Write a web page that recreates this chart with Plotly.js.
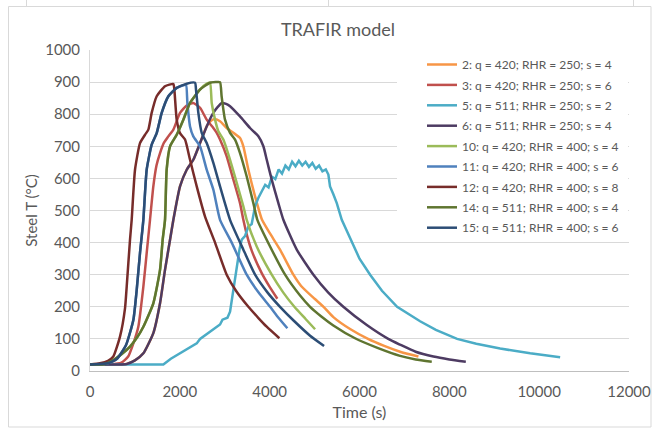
<!DOCTYPE html>
<html>
<head>
<meta charset="utf-8">
<script src="https://cdn.plot.ly/plotly-3.0.1.min.js"></script>
<style>html,body{margin:0;padding:0;background:#fff;}#chart{width:663px;height:432px;}</style>
</head>
<body>
<div id="chart"></div>
<script>
// ---- data (time in s, steel temperature in °C) ----
const names = ["2: q = 420; RHR = 250; s = 4","3: q = 420; RHR = 250; s = 6","5: q = 511; RHR = 250; s = 2","6: q = 511; RHR = 250; s = 4","10: q = 420; RHR = 400; s = 4","11: q = 420; RHR = 400; s = 6","12: q = 420; RHR = 400; s = 8","14: q = 511; RHR = 400; s = 4","15: q = 511; RHR = 400; s = 6"];
const colors = ["#F79646","#C0504D","#4BACC6","#4D3B62","#9BBB59","#4F81BD","#772C2A","#5F7530","#2C4D75"];

const t2 = [0,400,817,1000,1188,1410,1559,1670,1782,1856,2004,2153,2300,2450,2598,2700,2784,2895,3043,3192,3340,3414,3526,3675,3830,4000,4231,4528,4700,5000,5200,5418,5800,6190,6550,6904,7312];
const T2 = [20,20,22,33,55,118,211,315,409,471,575,627,658,710,762,780,785,778,757,742,726,700,627,544,471,430,378,300,265,225,200,168,130,100,78,60,45];

const t3 = [0,450,700,850,950,1076,1188,1262,1336,1410,1480,1559,1650,1744,1856,2004,2153,2300,2450,2598,2746,2821,2895,3043,3192,3340,3414,3500,3600,3823,4000,4171];
const T3 = [20,21,26,45,80,138,263,367,471,575,640,679,712,731,752,804,827,835,820,783,757,742,721,669,596,523,471,420,375,305,262,225];

const t5 = [0,1633,1800,2004,2200,2376,2450,2600,2746,2850,2895,2950,3006,3060,3118,3192,3267,3330,3378,3450,3526,3600,3675,3750,3825,3900,3975,4050,4125,4200,4275,4350,4425,4500,4575,4650,4725,4800,4875,4950,5025,5100,5175,5250,5307,5344,5420,5494,5605,5835,6000,6236,6500,6837,7349,7700,8173,8600,9131,9800,10467];
const T5 = [20,20,38,55,72,86,100,115,130,140,145,160,164,166,185,253,336,380,409,420,450,458,513,540,560,580,572,605,598,628,615,640,628,652,638,655,640,652,636,648,630,640,622,628,612,575,550,523,471,400,350,300,250,200,155,128,100,85,70,55,43];

const t6 = [0,817,1000,1188,1410,1559,1670,1782,1856,2004,2153,2300,2450,2598,2746,2840,2933,3030,3118,3340,3563,3749,3860,3935,4046,4194,4305,4603,4974,5300,5640,6162,6640,6904,7250,7646,8000,8367];
const T6 = [20,22,33,55,118,211,315,409,471,575,627,658,710,762,804,822,835,832,825,793,757,731,700,658,596,523,471,378,300,245,200,143,100,82,60,45,36,29];

const t10 = [0,300,519,700,891,1050,1188,1410,1559,1618,1670,1707,1782,1930,2078,2227,2450,2600,2672,2710,2784,2857,2969,3118,3267,3414,3489,3712,4046,4300,4550,4800,5011];
const T10 = [20,21,34,52,76,105,138,211,315,409,471,627,700,736,783,835,877,895,898,835,783,747,721,658,586,513,471,388,300,245,200,162,130];

const t11 = [0,400,600,800,965,1040,1113,1188,1262,1373,1485,1596,1745,1930,2080,2138,2168,2227,2300,2450,2598,2746,2895,3155,3489,3750,4009,4200,4394];
const T11 = [20,24,38,80,159,253,367,471,627,705,741,804,856,882,890,892,835,762,731,700,627,565,471,400,300,245,200,165,133];

const t12 = [0,222,400,519,668,780,817,891,928,1002,1113,1225,1299,1373,1485,1670,1856,1878,1930,2004,2116,2227,2376,2561,2784,3043,3250,3526,3750,3934,4216];
const T12 = [20,24,32,45,107,196,263,409,471,627,710,736,752,804,856,887,894,877,783,741,721,658,575,481,400,300,250,200,165,138,102];

const t14 = [0,300,519,700,891,1050,1188,1410,1559,1618,1670,1707,1782,1930,2078,2227,2450,2672,2800,2895,2930,3006,3118,3229,3340,3489,3637,3726,4009,4343,4677,4900,5150,5418,5900,6400,6904,7250,7609];
const T14 = [20,21,34,52,76,105,138,211,315,409,471,627,700,736,783,835,877,898,900,900,856,783,742,721,679,606,523,471,388,300,235,200,170,142,102,72,47,36,29];

const t15 = [0,400,600,800,965,1040,1113,1188,1262,1373,1485,1596,1745,1930,2153,2338,2360,2412,2487,2598,2746,2895,3118,3414,3675,3950,4231,4550,4900,5211];
const T15 = [20,24,38,80,159,253,367,471,627,705,741,804,856,882,895,898,877,804,742,710,648,575,471,378,300,245,200,155,110,78];

const xs = [t2,t3,t5,t6,t10,t11,t12,t14,t15];
const ys = [T2,T3,T5,T6,T10,T11,T12,T14,T15];

const xTicks = [0,2000,4000,6000,8000,10000,12000];
const yTicks = [0,100,200,300,400,500,600,700,800,900,1000];

// ---- drawing ----
const FONT = 'Lato, "Liberation Sans", Arial, sans-serif';
const TXT = '#595959';
const ML = 90, MR = 34, MT = 50, MB = 61, WW = 663, HH = 432;
const PW = WW - ML - MR, PH = HH - MT - MB;
const px = x => (x - ML) / PW;
const py = y => (HH - MB - y) / PH;

const traces = names.map((n, i) => ({
  type: 'scatter', mode: 'lines', name: n, x: xs[i], y: ys[i],
  legendgroup: 'g' + i,
  line: i === 2 ? {color: colors[i], width: 2.5} : {color: colors[i], width: 2.5, shape: 'spline', smoothing: 0.5},
  hoverinfo: 'skip'
}));

const frameLine = {color: '#D9D9D9', width: 1};
const layout = {
  width: WW, height: HH,
  margin: {l: ML, r: MR, t: MT, b: MB},
  paper_bgcolor: '#fff', plot_bgcolor: '#fff',
  font: {family: FONT, color: TXT, size: 14},
  title: {text: 'TRAFIR model', font: {family: FONT, size: 18, color: TXT}, x: 338 / WW, xref: 'container', xanchor: 'center', y: 1 - 30 / HH, yref: 'container', yanchor: 'middle'},
  xaxis: {
    range: [0, 12000], tickvals: xTicks, ticktext: xTicks.map(String),
    showgrid: false, zeroline: false, showline: true, linecolor: '#BFBFBF', linewidth: 1,
    ticks: '', ticklabelstandoff: 7, tickfont: {family: FONT, size: 15, color: TXT},
    title: {text: 'Time (s)', font: {family: FONT, size: 16, color: TXT}, standoff: 7},
    fixedrange: true
  },
  yaxis: {
    range: [0, 1000], tickvals: yTicks, ticktext: yTicks.map(String),
    showgrid: true, gridcolor: '#D9D9D9', gridwidth: 1, zeroline: false,
    showline: true, linecolor: '#D9D9D9', linewidth: 1,
    ticks: '', ticklabelstandoff: 6, tickfont: {family: FONT, size: 15, color: TXT},
    title: {text: 'Steel T (°C)', font: {family: FONT, size: 15, color: TXT}, standoff: 3},
    fixedrange: true
  },
  showlegend: true,
  legend: {
    x: px(422), y: py(50), xanchor: 'left', yanchor: 'top',
    bgcolor: 'rgba(0,0,0,0)', borderwidth: 0,
    font: {family: FONT, size: 12, color: TXT},
    traceorder: 'grouped', tracegroupgap: 1.4, itemwidth: 30
  },
  shapes: [
    {type: 'rect', xref: 'paper', yref: 'paper', x0: px(397), x1: px(628), y0: py(238), y1: py(53), fillcolor: '#fff', line: {width: 0}, layer: 'above'},
    {type: 'rect', xref: 'paper', yref: 'paper', x0: px(8.5), x1: px(651), y0: py(427), y1: py(6.5), fillcolor: 'rgba(0,0,0,0)', line: frameLine, layer: 'below'},
    {type: 'line', xref: 'paper', yref: 'paper', x0: px(26.5), x1: px(26.5), y0: py(6.5), y1: py(0), line: frameLine},
    {type: 'line', xref: 'paper', yref: 'paper', x0: px(328.5), x1: px(328.5), y0: py(6.5), y1: py(0), line: frameLine},
    {type: 'line', xref: 'paper', yref: 'paper', x0: px(633.5), x1: px(633.5), y0: py(6.5), y1: py(0), line: frameLine}
  ]
};

Plotly.newPlot('chart', traces, layout, {staticPlot: true, displayModeBar: false});
</script>
</body>
</html>
